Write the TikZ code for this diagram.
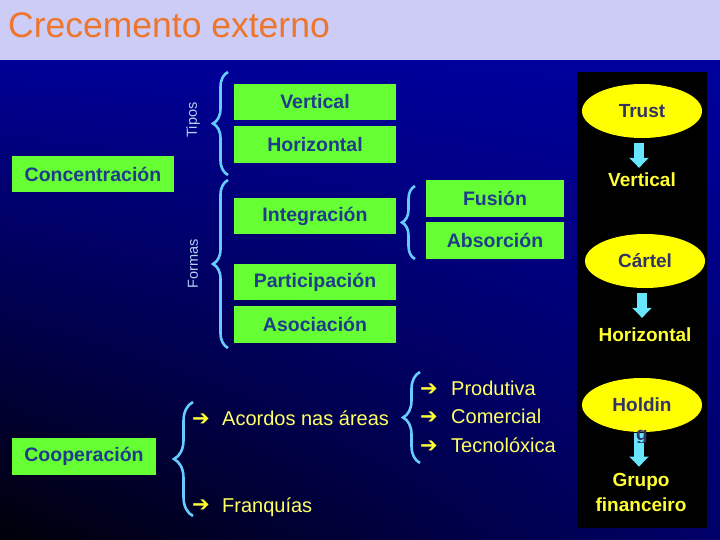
\documentclass[tikz,border=0pt]{standalone}
\usepackage{fontspec}
\setmainfont{Liberation Sans}
\newfontfamily\symfont{DejaVu Sans}
\usetikzlibrary{shapes.geometric,decorations.pathreplacing,arrows.meta,shadings}
\definecolor{band}{RGB}{204,204,246}
\definecolor{titleorange}{RGB}{238,118,44}
\definecolor{boxgreen}{RGB}{102,255,51}
\definecolor{boxtext}{RGB}{31,60,140}
\definecolor{elltext}{RGB}{51,51,102}
\definecolor{ellyellow}{RGB}{255,255,0}
\definecolor{ytext}{RGB}{255,255,51}
\definecolor{ltext}{RGB}{255,255,102}
\definecolor{arrcyan}{RGB}{102,230,255}
\definecolor{bracecol}{RGB}{102,204,255}
\definecolor{lbl}{RGB}{180,210,240}
\definecolor{bgul}{RGB}{0,0,150}
\definecolor{bgur}{RGB}{0,0,158}
\definecolor{bgll}{RGB}{0,0,8}
\definecolor{bglr}{RGB}{0,0,105}
\tikzset{
  gbox/.style={fill=boxgreen, draw=none, minimum width=162pt, minimum height=36pt, inner sep=0pt,
    font=\fontsize{19.5}{22}\selectfont\bfseries, text=boxtext},
  ell/.style={ellipse, fill=ellyellow, draw=none, minimum width=120pt, minimum height=54pt, inner sep=0pt,
    font=\fontsize{19}{22}\selectfont\bfseries, text=elltext},
  ptext/.style={inner sep=0pt, font=\fontsize{19}{25}\selectfont\bfseries, text=ytext, align=center},
  bigarr/.style={draw=arrcyan, line width=10pt, -{Triangle[length=10pt,width=19pt]}},
  brc/.style={draw=bracecol, line width=2.6pt, decorate},
  ltxt/.style={inner sep=0pt, anchor=base west, font=\fontsize{20}{24}\selectfont, text=ltext},
  bul/.style={inner sep=0pt, font=\symfont\fontsize{21}{24}\selectfont, text=ytext},
  sidelbl/.style={inner sep=0pt, rotate=90, font=\fontsize{14.5}{16}\selectfont, text=lbl}
}
\begin{document}
\begin{tikzpicture}[x=1pt,y=-1pt]
\useasboundingbox (0,0) rectangle (720,540);
% background
\fill[band] (0,0) rectangle (720,61);
\shade[upper left=bgul, upper right=bgur, lower left=bgll, lower right=bglr]
  (0,61) rectangle (720,540);
\node[inner sep=0pt, anchor=base west, font=\fontsize{35.5}{40}\selectfont, text=titleorange] (title) at (8,38) {Crecemento externo};
% black panel
\fill[black] (577,72) rectangle (707,528);

% green boxes
\node[gbox] (conc) at (93,174) {Concentración};
\node[gbox] (vert) at (315,102) {Vertical};
\node[gbox, minimum height=37pt] (horiz) at (315,144.5) {Horizontal};
\node[gbox] (integ) at (315,216) {Integración};
\node[gbox] (partic) at (315,282) {Participación};
\node[gbox, minimum height=37pt] (asoc) at (315,324.5) {Asociación};
\node[gbox, minimum width=138pt, minimum height=37pt] (fus) at (495,198.5) {Fusión};
\node[gbox, minimum width=138pt, minimum height=37pt] (abs) at (495,240.5) {Absorción};
\node[gbox, minimum width=144pt, minimum height=37pt] (coop) at (84,456.5) {Cooperación};

% side labels
\node[sidelbl] (tipos) at (193,120) {Tipos};
\node[sidelbl] (formas) at (193,264) {Formas};

% braces
\coordinate (tb) at (228,175); \coordinate (tt) at (228,72);
\coordinate (fb) at (228,348); \coordinate (ft) at (228,180);
\coordinate (ub) at (415,259); \coordinate (ut) at (415,186);
\coordinate (cb) at (193,516); \coordinate (ct) at (193,402);
\coordinate (ab) at (420,463); \coordinate (at) at (420,372);
\draw[brc, decoration={brace, amplitude=15pt}] (tb) -- (tt);
\draw[brc, decoration={brace, amplitude=15pt}] (fb) -- (ft);
\draw[brc, decoration={brace, amplitude=13pt}] (ub) -- (ut);
\draw[brc, decoration={brace, amplitude=19pt}] (cb) -- (ct);
\draw[brc, decoration={brace, amplitude=17pt}] (ab) -- (at);

% bullet lists
\node[bul] (b1) at (201,420) {➔};
\node[ltxt] (acordos) at (222,425) {Acordos nas áreas};
\node[bul] (b2) at (201,506) {➔};
\node[ltxt] (franq) at (222,512) {Franquías};
\node[bul] (b3) at (429,389.5) {➔};
\node[ltxt] (prod) at (451,395) {Produtiva};
\node[bul] (b4) at (429,418) {➔};
\node[ltxt] (com) at (451,423) {Comercial};
\node[bul] (b5) at (429,446.5) {➔};
\node[ltxt] (tec) at (451,452) {Tecnolóxica};

% right panel
\node[ell] (trust) at (642,111) {Trust};
\node[ptext] (pvert) at (642,180) {Vertical};
\node[ell] (cartel) at (645,261) {Cártel};
\node[ptext] (phoriz) at (645,335) {Horizontal};
\node[ell] (holdin) at (642,405) {Holdin};
\node[ptext] (grupo) at (641,492) {Grupo\\financeiro};

\coordinate (ax1) at (639,0);
\coordinate (ax2) at (642,0);
\coordinate (ax3) at (639,0);
\draw[bigarr, shorten <=5pt, shorten >=5pt] (trust.south -| ax1) -- (pvert.north -| ax1);
\draw[bigarr, shorten <=5pt, shorten >=10pt] (cartel.south -| ax2) -- (phoriz.north -| ax2);
\draw[bigarr, shorten <=1pt, shorten >=6pt] (holdin.south -| ax3) -- (grupo.north -| ax3);
\begin{scope}
\clip (625,429) rectangle (660,442);
\node[inner sep=0pt, anchor=base, font=\fontsize{19}{22}\selectfont\bfseries, text=elltext] (gg) at (642,440) {g};
\end{scope}
\end{tikzpicture}
\end{document}
